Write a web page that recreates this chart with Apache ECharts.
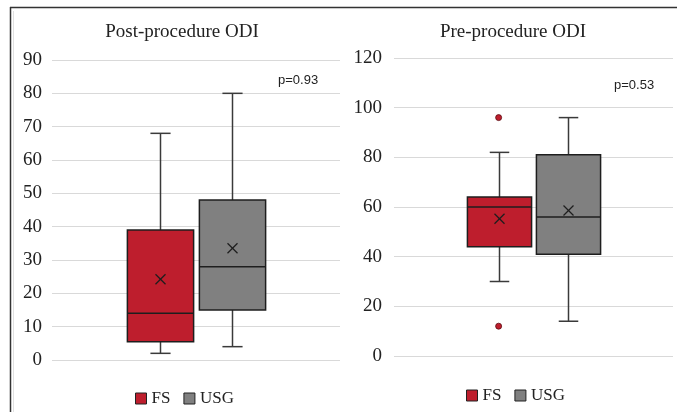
<!DOCTYPE html>
<html>
<head>
<meta charset="utf-8">
<script src="https://cdn.jsdelivr.net/npm/echarts@6/dist/echarts.min.js"></script>
<style>
    html, body { margin: 0; padding: 0; background: #fff; }
    #chart1 { width: 677px; height: 412px; }
</style>
</head>
<body>
<div id="chart1"></div>
<script>
    // box stats: [category index, min, Q1, median, Q3, max, mean]
    var groups = ['FS', 'USG'];
    var slots = ['', 'FS', 'USG', ' '];
    var postFS = [1, 2, 5.5, 14, 39, 68, 24.2];
    var postUSG = [2, 4, 15, 28, 48, 80, 33.5];
    var preFS = [1, 30, 44, 60, 64, 82, 55.3];
    var preUSG = [2, 14, 41, 56, 81, 96, 58.6];
    var preFSOutliers = [[1, 96], [1, 12]];
    var postTicks = {min: 0, max: 90, interval: 10};
    var preTicks = {min: 0, max: 120, interval: 20};
    var colorArr = ['#be1e2d', '#808080'];

    var chart1 = echarts.init(document.getElementById('chart1'));

    function renderBox(params, api) {
        var x = api.value(0);
        var band = api.size([1, 0])[0];
        var half = band * 0.46;
        var cap = band * 0.14;
        var pMin = api.coord([x, api.value(1)]);
        var pQ1 = api.coord([x, api.value(2)]);
        var pMed = api.coord([x, api.value(3)]);
        var pQ3 = api.coord([x, api.value(4)]);
        var pMax = api.coord([x, api.value(5)]);
        var pMean = api.coord([x, api.value(6)]);
        var cx = Math.round(pMed[0]) + 0.5;
        var ws = {stroke: '#3a3a3a', lineWidth: 1.5};
        var bs = {stroke: '#1e1e1e', lineWidth: 1.5};
        var m = 5;
        return {
            type: 'group',
            children: [
                {type: 'line', shape: {x1: cx, y1: pMax[1], x2: cx, y2: pQ3[1]}, style: ws},
                {type: 'line', shape: {x1: cx - cap, y1: pMax[1], x2: cx + cap, y2: pMax[1]}, style: ws},
                {type: 'line', shape: {x1: cx, y1: pQ1[1], x2: cx, y2: pMin[1]}, style: ws},
                {type: 'line', shape: {x1: cx - cap, y1: pMin[1], x2: cx + cap, y2: pMin[1]}, style: ws},
                {
                    type: 'rect',
                    shape: {x: cx - half, y: pQ3[1], width: half * 2, height: pQ1[1] - pQ3[1]},
                    style: {fill: api.visual('color'), stroke: '#1e1e1e', lineWidth: 1.5}
                },
                {type: 'line', shape: {x1: cx - half, y1: pMed[1], x2: cx + half, y2: pMed[1]}, style: bs},
                {type: 'line', shape: {x1: cx - m, y1: pMean[1] - m, x2: cx + m, y2: pMean[1] + m}, style: {stroke: '#1e1e1e', lineWidth: 1.3}},
                {type: 'line', shape: {x1: cx - m, y1: pMean[1] + m, x2: cx + m, y2: pMean[1] - m}, style: {stroke: '#1e1e1e', lineWidth: 1.3}}
            ]
        };
    }

    function boxSeries(name, data, idx, color) {
        return {
            name: name,
            type: 'custom',
            xAxisIndex: idx,
            yAxisIndex: idx,
            itemStyle: {color: color},
            renderItem: renderBox,
            encode: {x: 0, y: [1, 2, 3, 4, 5, 6]},
            data: [data],
            animation: false
        };
    }

    var serif = 'Liberation Serif';
    var labelStyle = {color: '#222', fontFamily: serif, fontSize: 19};

    function yAxis(idx, ticks, margin) {
        return {
            type: 'value',
            gridIndex: idx,
            min: ticks.min,
            max: ticks.max,
            interval: ticks.interval,
            axisLine: {show: false},
            axisTick: {show: false},
            axisLabel: Object.assign({margin: margin}, labelStyle),
            splitLine: {lineStyle: {color: '#d9d9d9', width: 1}}
        };
    }

    function xAxis(idx) {
        return {
            type: 'category',
            gridIndex: idx,
            data: slots,
            axisLine: {show: false},
            axisTick: {show: false},
            axisLabel: {show: false},
            splitLine: {show: false}
        };
    }

    function legend(left, top) {
        return {
            left: left,
            top: top,
            padding: 0,
            icon: 'rect',
            itemWidth: 11,
            itemHeight: 11,
            itemGap: 13,
            textStyle: {color: '#222', fontFamily: serif, fontSize: 17},
            itemStyle: {borderColor: '#222', borderWidth: 1},
            data: groups
        };
    }

    function title(text, left, top, font, size) {
        return {
            text: text, left: left, top: top, padding: 0,
            textAlign: font === serif ? 'center' : 'left',
            textStyle: {color: '#222', fontFamily: font, fontSize: size, fontWeight: 'normal'}
        };
    }

    var option = {
        animation: false,
        backgroundColor: '#fff',
        title: [
            title('Post-procedure ODI', 182, 23, serif, 19),
            title('Pre-procedure ODI', 513, 23, serif, 19),
            title('p=0.93', 278, 74, 'Liberation Sans', 13),
            title('p=0.53', 614, 79, 'Liberation Sans', 13)
        ],
        legend: [legend(135, 390), legend(466, 387)],
        grid: [
            {left: 52, right: 337, top: 60, bottom: 52},
            {left: 394, right: 4, top: 58, bottom: 56}
        ],
        xAxis: [xAxis(0), xAxis(1)],
        yAxis: [yAxis(0, postTicks, 10), yAxis(1, preTicks, 12)],
        series: [
            boxSeries('FS', postFS, 0, colorArr[0]),
            boxSeries('USG', postUSG, 0, colorArr[1]),
            boxSeries('FS', preFS, 1, colorArr[0]),
            boxSeries('USG', preUSG, 1, colorArr[1]),
            {
                name: 'FS outliers',
                type: 'scatter',
                xAxisIndex: 1,
                yAxisIndex: 1,
                symbolSize: 6,
                itemStyle: {color: colorArr[0], borderColor: '#5a0a10', borderWidth: 0.8, opacity: 1},
                data: preFSOutliers
            }
        ],
        graphic: [
            {type: 'line', shape: {x1: 10, y1: 7.5, x2: 677, y2: 7.5}, style: {stroke: '#333', lineWidth: 1.5}},
            {type: 'line', shape: {x1: 10.5, y1: 7, x2: 10.5, y2: 412}, style: {stroke: '#333', lineWidth: 1.5}},
            {type: 'line', shape: {x1: 13.5, y1: 11, x2: 13.5, y2: 412}, style: {stroke: '#e0e0e0', lineWidth: 1}}
        ]
    };

    chart1.setOption(option);
    window.addEventListener('resize', function () {
        chart1.resize();
    });
</script>
</body>
</html>
